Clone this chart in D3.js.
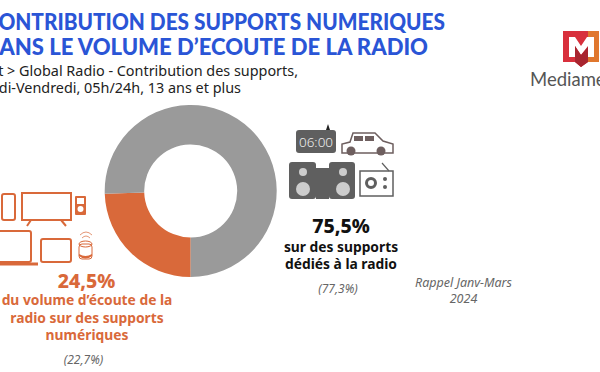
<!DOCTYPE html>
<html>
<head>
<meta charset="utf-8">
<script src="https://cdn.jsdelivr.net/npm/d3@7"></script>
<style>
html, body { margin: 0; padding: 0; background: #fff; overflow: hidden; }
text { font-family: "Noto Sans", sans-serif; }
</style>
</head>
<body>
<script>
const supports = ['Supports numériques', 'Supports dédiés à la radio']
const shares = [24.5, 75.5]
const colors = ['#d9693a', '#9a9a9a']

const titleLines = ['CONTRIBUTION DES SUPPORTS NUMERIQUES', 'DANS LE VOLUME D’ECOUTE DE LA RADIO']
const subtitleLines = ['Lot > Global Radio - Contribution des supports,', 'Lundi-Vendredi, 05h/24h, 13 ans et plus']

const width = 600
const height = 372
const orange = '#d9693a'
const dark = '#5f5f5f'

const svg = d3.select('body').append('svg')
    .attr('width', width)
    .attr('height', height)

function drawLine(line, x, y, size, weight, fill, anchor, style, font) {
    return svg.append('text')
        .attr('x', x)
        .attr('y', y)
        .attr('text-anchor', anchor || 'start')
        .style('font-size', size + 'px')
        .style('font-weight', weight)
        .style('font-style', style || 'normal')
        .style('font-family', font || null)
        .style('fill', fill)
        .text(line)
}

// titles, cut by the left edge like the slide
drawLine(titleLines[0], -15, 30, 23, 900, '#2a55d6', 'start', null, 'Lato')
    .attr('textLength', 460).attr('lengthAdjust', 'spacingAndGlyphs')
drawLine(titleLines[1], -17, 55, 23, 900, '#2a55d6', 'start', null, 'Lato')
    .attr('textLength', 445).attr('lengthAdjust', 'spacingAndGlyphs')
drawLine(subtitleLines[0], 298, 76, 14.4, 400, '#222', 'end')
drawLine(subtitleLines[1], 241, 93, 14.4, 400, '#222', 'end')

// donut
const pie = d3.pie().sort(null).value(d => d)
    .startAngle(Math.PI)
    .endAngle(3 * Math.PI)
const arc = d3.arc().innerRadius(46.5).outerRadius(86)

svg.append('g')
    .attr('transform', 'translate(190.7,191)')
    .selectAll('path')
    .data(pie(shares))
    .enter()
    .append('path')
        .attr('d', arc)
        .style('fill', (d, i) => colors[i])

// right hand labels
drawLine('75,5%', 341, 233, 19.5, 800, '#111', 'middle')
drawLine('sur des supports', 341, 252, 13.8, 700, '#111', 'middle')
drawLine('dédiés à la radio', 341, 268.5, 13.8, 700, '#111', 'middle')
drawLine('(77,3%)', 338, 293, 12, 400, '#666', 'middle', 'italic')
drawLine('Rappel Janv-Mars', 463.5, 287, 12.5, 400, '#666', 'middle', 'italic')
drawLine('2024', 463.5, 303, 12.5, 400, '#666', 'middle', 'italic')

// left hand labels
drawLine('24,5%', 86.5, 288, 19.5, 800, orange, 'middle')
drawLine('du volume d’écoute de la', 87, 305, 13.8, 700, orange, 'middle')
drawLine('radio sur des supports', 87, 322.5, 13.8, 700, orange, 'middle')
drawLine('numériques', 87, 340, 13.8, 700, orange, 'middle')
drawLine('(22,7%)', 83.5, 364, 12, 400, '#666', 'middle', 'italic')

// logo
const logo = svg.append('g')
logo.append('path').attr('d', 'M563 31H599V62H588L581 67L575 62H563Z').style('fill', '#d8303c')
logo.append('path').attr('d', 'M588 31H599V62H588Z').style('fill', '#e0772e')
logo.append('path').attr('d', 'M569 57V37H575L581 46L587 37H594V57H588V46L581 55L575 46V57Z').style('fill', '#fff')
logo.append('path').attr('d', 'M575 46L581 55L588 47V62L581 67L575 62Z').style('fill', '#a8252f')
drawLine('Mediamet', 530, 86, 18.5, 400, '#555', 'start', null, 'Lato')

// radio icons
const icons = svg.append('g').style('fill', 'none').style('stroke', dark)
icons.append('rect').attr('x', 296).attr('y', 130).attr('width', 40).attr('height', 23).attr('rx', 3).style('fill', dark).style('stroke', 'none')
icons.append('path').attr('d', 'M326 130L328 124L330 130Z').style('fill', '#222').style('stroke', 'none')
drawLine('06:00', 316, 146.5, 13.5, 300, '#eee', 'middle')
icons.append('path').attr('d', 'M342 153V144L350 142L353 133H375L383 141L393 144V153H342Z').style('stroke', '#6e5f5f').style('stroke-width', 1.5)
icons.append('path').attr('d', 'M354 136H363V141H354ZM365 136H374V141H365Z').style('fill', '#6e5f5f').style('stroke', 'none')
icons.append('circle').attr('cx', 351).attr('cy', 151).attr('r', 4.5).style('fill', '#6e5f5f').style('stroke', 'none')
icons.append('circle').attr('cx', 381).attr('cy', 151).attr('r', 4.5).style('fill', '#6e5f5f').style('stroke', 'none')
icons.append('rect').attr('x', 289).attr('y', 162).attr('width', 27).attr('height', 37).attr('rx', 3).style('fill', dark).style('stroke', 'none')
icons.append('rect').attr('x', 316).attr('y', 168).attr('width', 13).attr('height', 31).style('fill', dark).style('stroke', 'none')
icons.append('rect').attr('x', 329).attr('y', 162).attr('width', 26).attr('height', 37).attr('rx', 3).style('fill', dark).style('stroke', 'none')
;[[303, 172, 4], [303, 189, 7], [343, 172, 4], [343, 189, 7]].forEach(c => {
    icons.append('circle').attr('cx', c[0]).attr('cy', c[1]).attr('r', c[2]).style('fill', '#ccc').style('stroke', 'none')
})
icons.append('rect').attr('x', 360).attr('y', 171).attr('width', 33).attr('height', 25).style('stroke-width', 1.5)
icons.append('path').attr('d', 'M389 171L382 163').style('stroke-width', 1.2)
icons.append('circle').attr('cx', 371).attr('cy', 183).attr('r', 4.5).style('stroke-width', 3)
icons.append('circle').attr('cx', 385).attr('cy', 179).attr('r', 2).style('fill', dark).style('stroke', 'none')
icons.append('circle').attr('cx', 385).attr('cy', 187).attr('r', 2).style('fill', dark).style('stroke', 'none')

// device icons
const devices = svg.append('g').style('fill', 'none').style('stroke', orange).style('stroke-width', 2)
devices.append('rect').attr('x', 2).attr('y', 194).attr('width', 13).attr('height', 26).attr('rx', 2)
devices.append('rect').attr('x', 22).attr('y', 193).attr('width', 49).attr('height', 27)
devices.append('path').attr('d', 'M31 220L27 226M61 220L66 226')
devices.append('rect').attr('x', 75).attr('y', 196).attr('width', 11).attr('height', 19).attr('rx', 1).style('fill', orange).style('stroke', 'none')
devices.append('rect').attr('x', 77).attr('y', 198).attr('width', 7).attr('height', 6).style('fill', '#fff').style('stroke', 'none')
devices.append('circle').attr('cx', 80.5).attr('cy', 209).attr('r', 3).style('fill', '#fff').style('stroke', 'none')
devices.append('rect').attr('x', -6).attr('y', 231).attr('width', 37).attr('height', 31).attr('rx', 2)
devices.append('path').attr('d', 'M-6 264H38').style('stroke-width', 3)
devices.append('rect').attr('x', 41).attr('y', 239).attr('width', 30).attr('height', 23).attr('rx', 2)
devices.append('path').attr('d', 'M80 235Q86 229 92 235M82 238Q86 234 90 238').style('stroke-width', 1).style('opacity', 0.7)
devices.append('ellipse').attr('cx', 85.5).attr('cy', 244).attr('rx', 6.5).attr('ry', 3).style('stroke-width', 1)
devices.append('rect').attr('x', 79).attr('y', 244).attr('width', 13).attr('height', 15).attr('rx', 3).style('stroke-width', 1)
devices.append('path').attr('d', 'M79 254Q85.5 258 92 254V256Q85.5 261 79 256Z').style('fill', orange).style('stroke', 'none')
</script>
</body>
</html>
